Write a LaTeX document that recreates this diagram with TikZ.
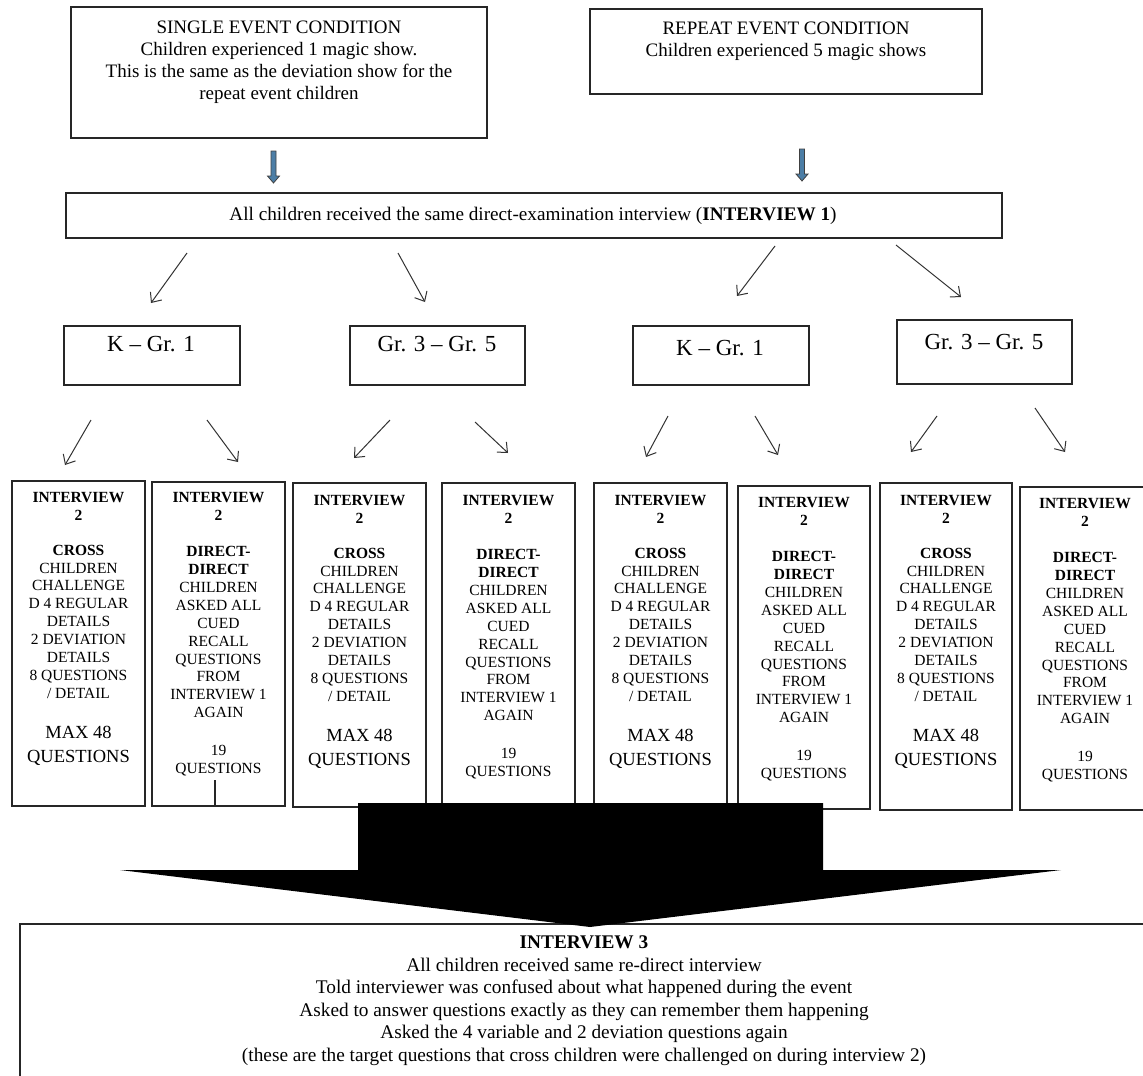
\documentclass[tikz,border=0pt]{standalone}
\usepackage{fontspec}
\setmainfont{Liberation Serif}
\usetikzlibrary{arrows.meta}
\newcommand\bigq[1]{{\fontsize{18.5}{22}\selectfont #1}}
\begin{document}
\begin{tikzpicture}[x=1pt,y=-1pt,
  boxstyle/.style={draw=black!85,line width=1.3pt},
  toptext/.style={align=center,inner sep=0pt,anchor=north,font=\fontsize{19}{22}\selectfont},
  grptext/.style={inner sep=0pt,font=\fontsize{23}{26}\selectfont},
  coltext/.style={align=center,inner sep=0pt,anchor=north,font=\fontsize{15.5}{17.9}\selectfont},
  conn/.style={draw=black!80,line width=1pt,-{Straight Barb[length=8pt,width=14pt,line width=1pt]}},
  bluearrow/.style={fill=blue!45!cyan!50!black!70,draw=black!75,line width=0.8pt},
]
\clip (0,0) rectangle (1143,1076);
\fill[white] (0,0) rectangle (1143,1076);

% top boxes
\draw[boxstyle] (71,7) rectangle (487,138);
\node[toptext] (tl) at (279,21) {SINGLE EVENT CONDITION\\Children experienced 1 magic show.\\This is the same as the deviation show for the\\repeat event children};
\draw[boxstyle] (590,9) rectangle (982,94);
\node[toptext] (tr) at (786,21.5) {REPEAT EVENT CONDITION\\Children experienced 5 magic shows};

% blue arrows
\path[bluearrow] (271,151) -- (276,151) -- (276,176) -- (279.5,176) -- (273.5,183) -- (267.5,176) -- (271,176) -- cycle;
\path[bluearrow] (799.5,149) -- (804.5,149) -- (804.5,174) -- (808,174) -- (802,181) -- (796,174) -- (799.5,174) -- cycle;

% interview 1
\draw[boxstyle] (66,193) rectangle (1002,238);
\node[inner sep=0pt,font=\fontsize{19.2}{22}\selectfont] (i1) at (533,215.5) {All children received the same direct-examination interview (\textbf{INTERVIEW 1})};

% arrows from interview 1
\coordinate (a1s) at (187,253); \coordinate (a1e) at (151,303);
\coordinate (a2s) at (398,253); \coordinate (a2e) at (425,302);
\coordinate (a3s) at (775,246); \coordinate (a3e) at (737,296);
\coordinate (a4s) at (896,245); \coordinate (a4e) at (961,297);
\draw[conn] (a1s) -- (a1e);
\draw[conn] (a2s) -- (a2e);
\draw[conn] (a3s) -- (a3e);
\draw[conn] (a4s) -- (a4e);

% group boxes
\draw[boxstyle] (64,326) rectangle (240,385);
\node[grptext] (g1) at (151,344) {K -- Gr. 1};
\draw[boxstyle] (350,326) rectangle (525,385);
\node[grptext] (g2) at (437,344) {Gr. 3 -- Gr. 5};
\draw[boxstyle] (633,326) rectangle (809,385);
\node[grptext] (g3) at (720,348) {K -- Gr. 1};
\draw[boxstyle] (897,320) rectangle (1072,384);
\node[grptext] (g4) at (984,342) {Gr. 3 -- Gr. 5};

% arrows from group boxes
\coordinate (b1s) at (91,420);  \coordinate (b1e) at (65,465);
\coordinate (b2s) at (207,420); \coordinate (b2e) at (238,462);
\coordinate (b3s) at (390,420); \coordinate (b3e) at (354,458);
\coordinate (b4s) at (475,422); \coordinate (b4e) at (508,453);
\coordinate (b5s) at (668,416); \coordinate (b5e) at (646,457);
\coordinate (b6s) at (755,416); \coordinate (b6e) at (778,455);
\coordinate (b7s) at (937,416); \coordinate (b7e) at (911,452);
\coordinate (b8s) at (1035,408); \coordinate (b8e) at (1065,452);
\foreach \i in {1,...,8} {\draw[conn] (b\i s) -- (b\i e);}

% column boxes
\newcommand\crosstext{\textbf{INTERVIEW}\\\textbf{2}\\[17pt]\textbf{CROSS}\\CHILDREN\\CHALLENGE\\D 4 REGULAR\\DETAILS\\2 DEVIATION\\DETAILS\\8 QUESTIONS\\/ DETAIL\\[22pt]\bigq{MAX 48}\\[6pt]\bigq{QUESTIONS}}
\newcommand\directtext{\textbf{INTERVIEW}\\\textbf{2}\\[18.5pt]\textbf{DIRECT-}\\\textbf{DIRECT}\\CHILDREN\\ASKED ALL\\CUED\\RECALL\\QUESTIONS\\FROM\\INTERVIEW 1\\AGAIN\\[20pt]19\\QUESTIONS}
\draw[boxstyle] (12,481) rectangle (145,806);
\node[coltext] (c1) at (78.5,492) {\crosstext};
\draw[boxstyle] (152,482) rectangle (285,806);
\node[coltext] (c2) at (218.5,492) {\directtext};
\draw[boxstyle] (215,780) -- (215,806);
\draw[boxstyle] (293,483) rectangle (426,807);
\node[coltext] (c3) at (359.5,495) {\crosstext};
\draw[boxstyle] (442,483) rectangle (575,807);
\node[coltext] (c4) at (508.5,495) {\directtext};
\draw[boxstyle] (594,483) rectangle (727,806);
\node[coltext] (c5) at (660.5,495) {\crosstext};
\draw[boxstyle] (738,486) rectangle (870,809);
\node[coltext] (c6) at (804,497) {\directtext};
\draw[boxstyle] (880,483) rectangle (1012,810);
\node[coltext] (c7) at (946,495) {\crosstext};
\draw[boxstyle] (1020,487) rectangle (1150,810);
\node[coltext] (c8) at (1085,498) {\directtext};

% interview 3 box
\draw[boxstyle] (20,924) rectangle (1160,1100);
\node[align=center,inner sep=0pt,anchor=north,font=\fontsize{19.3}{22.6}\selectfont] (i3) at (584,935.5)
 {\textbf{INTERVIEW 3}\\All children received same re-direct interview\\Told interviewer was confused about what happened during the event\\Asked to answer questions exactly as they can remember them happening\\Asked the 4 variable and 2 deviation questions again\\(these are the target questions that cross children were challenged on during interview 2)};

% big block arrow
\fill[black] (358,803) -- (823,803) -- (823,870) -- (1061,870) -- (590,927) -- (120,870) -- (358,870) -- cycle;
\end{tikzpicture}
\end{document}
